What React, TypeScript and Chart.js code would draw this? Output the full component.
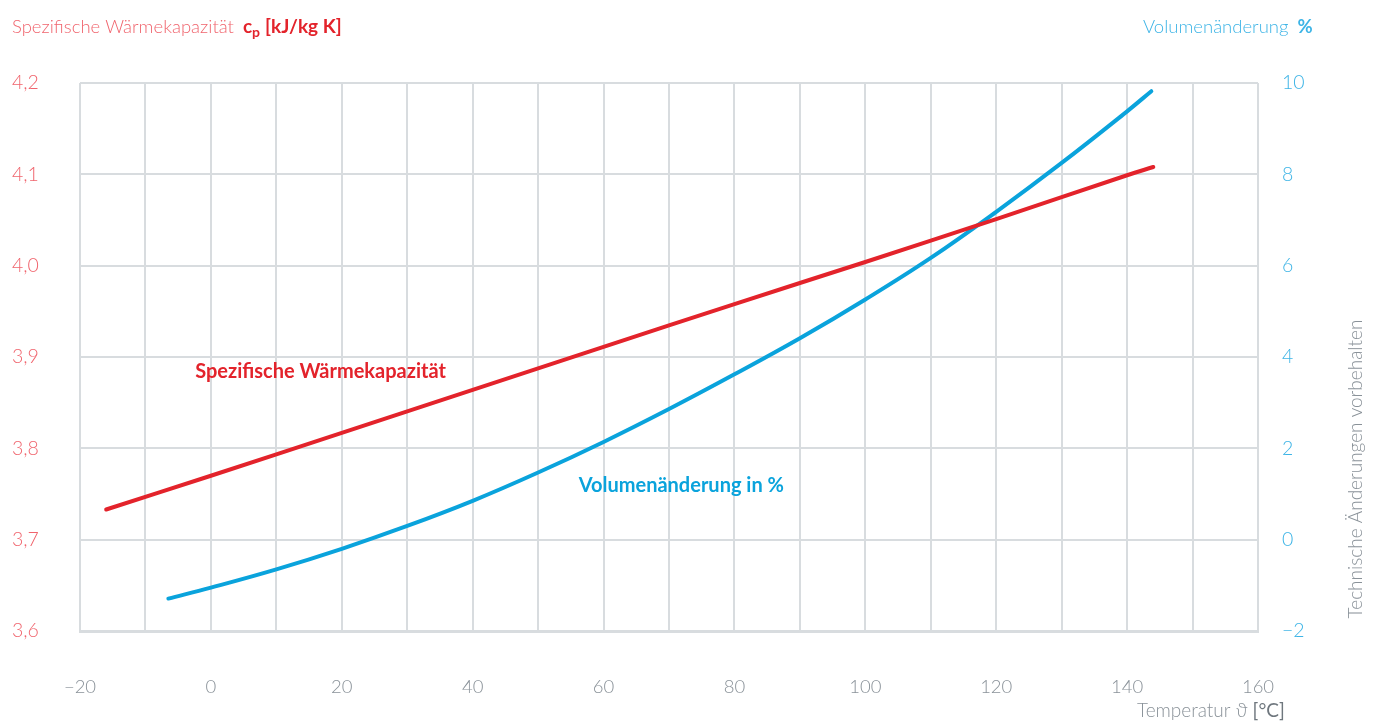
import React, { useEffect, useRef } from "react";
import { Chart, registerables } from "chart.js";

Chart.register(...registerables);

// Temperatures (°C) and specific heat capacity cp (kJ/kg K)
const cpTemps = [-16, 0, 20, 40, 60, 80, 100, 120, 140, 144];
const cpValues = [3.733, 3.770, 3.817, 3.864, 3.911, 3.958, 4.004, 4.051, 4.099, 4.108];

// Temperatures (°C) and volume change (%)
const volTemps = [-6.5, 0, 10, 20, 30, 40, 50, 60, 70, 80, 90, 100, 110, 120, 130, 140, 143.7];
const volValues = [-1.29, -1.05, -0.65, -0.2, 0.3, 0.85, 1.47, 2.14, 2.86, 3.62, 4.41, 5.26, 6.17, 7.18, 8.25, 9.38, 9.82];

const xTicks = [-20, 0, 20, 40, 60, 80, 100, 120, 140, 160];

const FONT = "Lato, 'Open Sans', sans-serif";
const RED = "#e3232b";
const RED_LIGHT = "#f0646d";
const BLUE = "#0aa3dc";
const BLUE_LIGHT = "#3db4e6";
const GRAY = "#8a9299";
const GRID = "#d8dcdf";

const textPlugin = {
  id: "texts",
  afterDraw(chart: any) {
    const ctx = chart.ctx;
    const xs = chart.scales.x;
    const yl = chart.scales.y;
    const yr = chart.scales.y1;
    ctx.save();
    ctx.textBaseline = "middle";

    // top-left title
    ctx.textAlign = "left";
    ctx.fillStyle = RED_LIGHT;
    ctx.font = `300 18.5px ${FONT}`;
    const t1 = "Spezifische Wärmekapazität";
    ctx.fillText(t1, 12, 27);
    let x = 12 + ctx.measureText(t1).width + 9;
    ctx.fillStyle = RED;
    ctx.font = `bold 19px ${FONT}`;
    ctx.fillText("c", x, 27);
    x += ctx.measureText("c").width;
    ctx.font = `bold 14px ${FONT}`;
    ctx.fillText("p", x, 32);
    x += ctx.measureText("p").width + 5;
    ctx.font = `bold 19px ${FONT}`;
    ctx.fillText("[kJ/kg K]", x, 27);

    // top-right title
    ctx.font = `300 18.5px ${FONT}`;
    ctx.fillStyle = BLUE_LIGHT;
    const t2 = "Volumenänderung";
    ctx.fillText(t2, 1143, 27);
    const w2 = ctx.measureText(t2).width;
    ctx.font = `bold 18.5px ${FONT}`;
    ctx.fillText("%", 1143 + w2 + 9, 27);

    // bottom-right x title
    ctx.fillStyle = GRAY;
    ctx.font = `300 19px ${FONT}`;
    const t3 = "Temperatur ϑ ";
    ctx.fillText(t3, 1137, 711);
    const w3 = ctx.measureText(t3).width;
    ctx.fillStyle = "#6f777e";
    ctx.font = `19px ${FONT}`;
    ctx.fillText("[°C]", 1137 + w3, 711);

    // rotated disclaimer
    ctx.save();
    ctx.translate(1356, 469);
    ctx.rotate(-Math.PI / 2);
    ctx.textAlign = "center";
    ctx.fillStyle = GRAY;
    ctx.font = `300 19px ${FONT}`;
    ctx.fillText("Technische Änderungen vorbehalten", 0, 0);
    ctx.restore();

    // inline series labels
    ctx.textAlign = "left";
    ctx.font = `bold 20px ${FONT}`;
    ctx.fillStyle = RED;
    ctx.fillText("Spezifische Wärmekapazität", xs.getPixelForValue(-2.4), yl.getPixelForValue(3.884));
    ctx.fillStyle = BLUE;
    ctx.fillText("Volumenänderung in %", xs.getPixelForValue(56.2), yr.getPixelForValue(1.18));

    ctx.restore();
  },
};

export default function App() {
  const ref = useRef<HTMLCanvasElement | null>(null);

  useEffect(() => {
    document.body.style.margin = "0";
    const chart = new Chart(ref.current as HTMLCanvasElement, {
      type: "line",
      data: {
        datasets: [
          {
            label: "Spezifische Wärmekapazität",
            data: cpTemps.map((t, i) => ({ x: t, y: cpValues[i] })),
            yAxisID: "y",
            borderColor: RED,
            borderWidth: 4,
            pointRadius: 0,
            tension: 0.4,
            borderCapStyle: "round",
          },
          {
            label: "Volumenänderung in %",
            data: volTemps.map((t, i) => ({ x: t, y: volValues[i] })),
            yAxisID: "y1",
            borderColor: BLUE,
            borderWidth: 4,
            pointRadius: 0,
            tension: 0.4,
            borderCapStyle: "round",
          },
        ],
      },
      options: {
        animation: false,
        responsive: true,
        maintainAspectRatio: false,
        layout: { padding: { left: 12, top: 83, right: 0, bottom: 0 } },
        plugins: { legend: { display: false }, tooltip: { enabled: false } },
        scales: {
          x: {
            type: "linear",
            min: -20,
            max: 160,
            afterFit: (s: any) => { s.height = 91; },
            ticks: {
              stepSize: 10,
              padding: 45,
              color: GRAY,
              font: { family: FONT, size: 18.5, weight: "300" },
              callback: (v: any) => (xTicks.includes(v) ? (v < 0 ? "\u2212" + Math.abs(v) : String(v)) : ""),
              autoSkip: false,
              maxRotation: 0,
            },
            grid: { color: GRID, lineWidth: 2, drawTicks: false },
            border: { display: true, color: GRID, width: 3 },
          },
          y: {
            position: "left",
            min: 3.6,
            max: 4.2,
            afterFit: (s: any) => { s.width = 68; },
            ticks: {
              stepSize: 0.1,
              crossAlign: "far",
              color: RED_LIGHT,
              font: { family: FONT, size: 19.5, weight: "300" },
              callback: (v: any) => Number(v).toFixed(1).replace(".", ","),
            },
            grid: { color: GRID, lineWidth: 2, drawTicks: false },
            border: { display: false },
          },
          y1: {
            position: "right",
            min: -2,
            max: 10,
            afterFit: (s: any) => { s.width = 120; },
            ticks: {
              stepSize: 2,
              padding: 24,
              color: BLUE_LIGHT,
              font: { family: FONT, size: 19.5, weight: "300" },
              callback: (v: any) => (v < 0 ? "\u2212" + Math.abs(v) : String(v)),
            },
            grid: { drawOnChartArea: false, drawTicks: false },
            border: { display: false },
          },
        },
      } as any,
      plugins: [textPlugin],
    });
    return () => chart.destroy();
  }, []);

  return (
    <div style={{ position: "absolute", left: 0, top: 0, width: 1378, height: 722 }}>
      <canvas ref={ref} />
    </div>
  );
}
